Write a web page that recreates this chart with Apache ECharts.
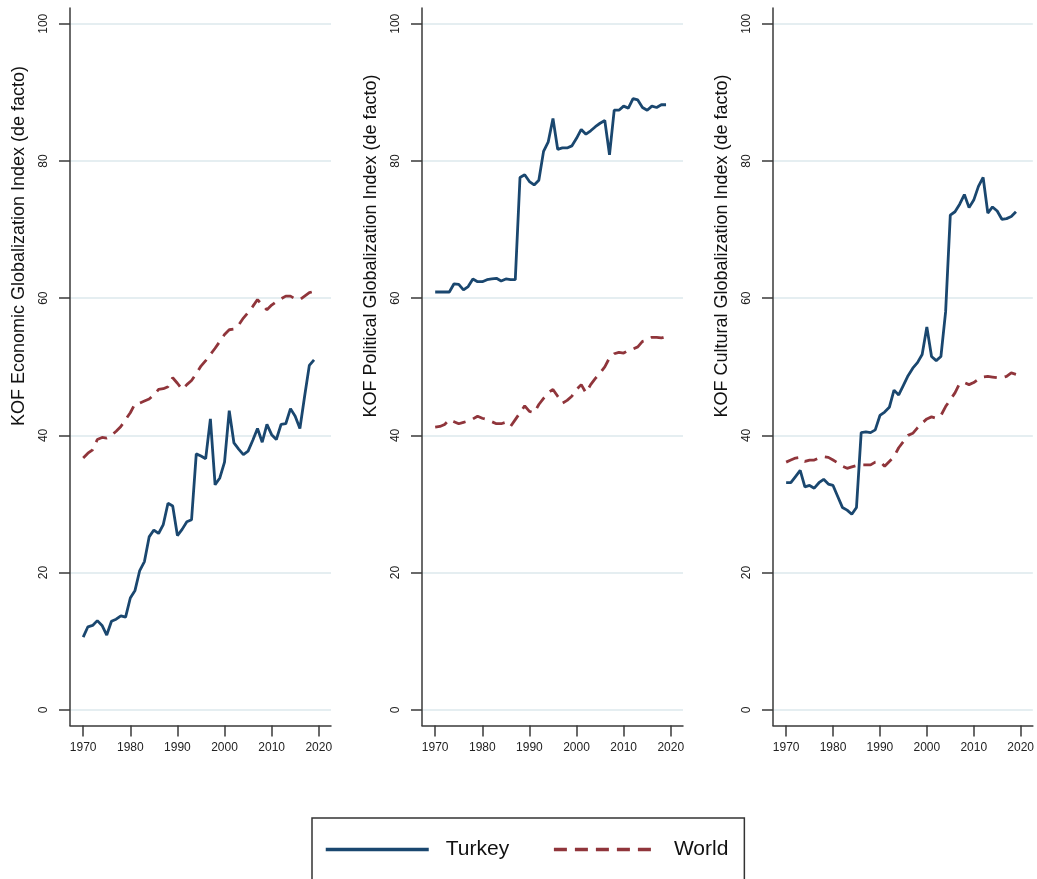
<!DOCTYPE html>
<html>
<head>
<meta charset="utf-8">
<script src="https://cdn.jsdelivr.net/npm/echarts@6/dist/echarts.min.js"></script>
<style>
    html, body {margin: 0; padding: 0; background: #fff;}
    #chart {width: 1037px; height: 879px;}
</style>
</head>
<body>
<div id="chart"></div>
<script>
// years on the x axis
const years = [1970, 1971, 1972, 1973, 1974, 1975, 1976, 1977, 1978, 1979,
    1980, 1981, 1982, 1983, 1984, 1985, 1986, 1987, 1988, 1989,
    1990, 1991, 1992, 1993, 1994, 1995, 1996, 1997, 1998, 1999,
    2000, 2001, 2002, 2003, 2004, 2005, 2006, 2007, 2008, 2009,
    2010, 2011, 2012, 2013, 2014, 2015, 2016, 2017, 2018, 2019];

// KOF economic globalization (de facto)
const econTurkey = [10.6, 12.1, 12.3, 13.0, 12.3, 10.9, 12.9, 13.2, 13.7, 13.5,
    16.3, 17.4, 20.3, 21.6, 25.2, 26.2, 25.7, 27.0, 30.1, 29.7,
    25.4, 26.3, 27.4, 27.7, 37.3, 37.0, 36.6, 42.4, 32.8, 33.8,
    36.1, 43.6, 38.9, 38.0, 37.2, 37.7, 39.3, 41.0, 39.0, 41.6,
    40.1, 39.4, 41.6, 41.7, 43.9, 42.8, 41.0, 45.7, 50.2, 51.0];
const econWorld = [36.7, 37.4, 37.9, 39.4, 39.7, 39.6, 40.0, 40.6, 41.3, 42.3,
    43.3, 44.6, 44.7, 45.0, 45.3, 45.9, 46.7, 46.8, 47.1, 48.4,
    47.6, 46.7, 47.4, 48.0, 49.0, 50.1, 50.9, 51.8, 52.7, 53.7,
    54.7, 55.4, 55.5, 56.1, 57.1, 57.9, 58.8, 59.8, 59.0, 58.3,
    59.0, 59.5, 59.9, 60.3, 60.3, 59.9, 59.8, 60.3, 60.8, 61.0];

// KOF political globalization (de facto)
const polTurkey = [60.9, 60.9, 60.9, 60.9, 62.1, 62.0, 61.2, 61.7, 62.8, 62.4,
    62.4, 62.7, 62.8, 62.9, 62.5, 62.8, 62.7, 62.7, 77.6, 78.0,
    77.0, 76.5, 77.2, 81.4, 82.8, 86.2, 81.7, 81.9, 81.9, 82.2,
    83.3, 84.6, 83.9, 84.4, 85.0, 85.5, 85.9, 80.9, 87.4, 87.4,
    88.0, 87.7, 89.1, 88.9, 87.8, 87.4, 88.0, 87.8, 88.2, 88.2];
const polWorld = [41.2, 41.3, 41.6, 42.3, 42.0, 41.7, 41.9, 42.1, 42.4, 42.8,
    42.5, 42.3, 42.0, 41.7, 41.7, 41.9, 41.3, 42.3, 43.3, 44.3,
    43.5, 43.3, 44.5, 45.4, 46.2, 46.7, 45.7, 44.7, 45.1, 45.7,
    46.7, 47.4, 46.2, 47.4, 48.3, 49.1, 50.0, 51.3, 51.9, 52.1,
    52.0, 52.4, 52.6, 52.9, 53.7, 53.9, 54.3, 54.3, 54.2, 54.4];

// KOF cultural globalization (de facto)
const cultTurkey = [33.1, 33.1, 34.0, 34.9, 32.5, 32.7, 32.3, 33.1, 33.6, 32.9,
    32.7, 31.1, 29.5, 29.1, 28.5, 29.5, 40.4, 40.5, 40.4, 40.8,
    42.9, 43.4, 44.1, 46.6, 45.9, 47.3, 48.7, 49.8, 50.6, 51.8,
    55.8, 51.5, 50.9, 51.5, 58.0, 72.1, 72.6, 73.7, 75.1, 73.2,
    74.3, 76.3, 77.6, 72.4, 73.3, 72.7, 71.5, 71.6, 71.9, 72.6];
const cultWorld = [36.1, 36.4, 36.7, 36.8, 36.2, 36.4, 36.4, 36.7, 36.9, 36.8,
    36.4, 36.0, 35.5, 35.2, 35.4, 35.6, 35.7, 35.7, 35.7, 36.1,
    36.2, 35.5, 36.2, 36.9, 38.2, 39.1, 40.0, 40.3, 41.1, 41.8,
    42.4, 42.7, 42.5, 42.9, 44.2, 45.2, 46.2, 47.6, 47.7, 47.4,
    47.7, 48.2, 48.5, 48.6, 48.5, 48.4, 48.4, 48.6, 49.1, 48.9];

const xTicks = [1970, 1980, 1990, 2000, 2010, 2020];
const yTicks = [0, 20, 40, 60, 80, 100];
const panelTitles = [
    'KOF Economic Globalization Index (de facto)',
    'KOF Political Globalization Index (de facto)',
    'KOF Cultural Globalization Index (de facto)'
];

const FONT = '"Liberation Sans", Arial, Helvetica, sans-serif';
const TURKEY_COLOR = '#1a476f';
const WORLD_COLOR = '#90353b';
const panelLeft = [70, 422, 773];   //各面板y轴位置
const panelData = [[econTurkey, econWorld], [polTurkey, polWorld], [cultTurkey, cultWorld]];

const pairs = arr => arr.map((v, i) => [years[i], v]);

let grids = [], xAxes = [], yAxes = [], series = [], graphics = [];
for (let i = 0; i < 3; i++) {
    grids.push({left: panelLeft[i], top: 8, width: 261, height: 717.5});
    xAxes.push({
        type: 'value',
        gridIndex: i,
        min: 1967.2,
        max: 2022.6,
        axisLine: {onZero: false, lineStyle: {color: '#3a3a3a', width: 1.5}},
        axisTick: {show: true, length: 11, customValues: xTicks, lineStyle: {color: '#3a3a3a', width: 1.5}},
        axisLabel: {
            customValues: xTicks,
            margin: 16,
            fontSize: 12,
            color: '#222',
            fontFamily: FONT,
            formatter: value => String(value)
        },
        splitLine: {show: false}
    });
    yAxes.push({
        type: 'value',
        gridIndex: i,
        min: -2.29,
        max: 102.3,
        axisLine: {show: true, onZero: false, lineStyle: {color: '#3a3a3a', width: 1.5}},
        axisTick: {show: true, length: 11, customValues: yTicks, lineStyle: {color: '#3a3a3a', width: 1.5}},
        axisLabel: {customValues: yTicks, rotate: 90, margin: 20, fontSize: 12, color: '#222', fontFamily: FONT},
        splitLine: {show: true, lineStyle: {color: '#dce9ed', width: 1.5}}
    });
    series.push({
        name: 'Turkey',
        type: 'line',
        xAxisIndex: i,
        yAxisIndex: i,
        data: pairs(panelData[i][0]),
        symbol: 'none',
        itemStyle: {color: TURKEY_COLOR},
        lineStyle: {color: TURKEY_COLOR, width: 2.8},
        z: 3
    }, {
        name: 'World',
        type: 'line',
        xAxisIndex: i,
        yAxisIndex: i,
        data: pairs(panelData[i][1]),
        symbol: 'none',
        itemStyle: {color: WORLD_COLOR},
        lineStyle: {color: WORLD_COLOR, width: 2.8, type: [13, 8]},
        z: 2
    });
    graphics.push({
        type: 'text',
        x: panelLeft[i] - 51,
        y: 246,
        rotation: Math.PI / 2,
        style: {
            text: panelTitles[i],
            fontSize: 18,
            fontFamily: FONT,
            fill: '#111',
            align: 'center',
            verticalAlign: 'middle'
        }
    });
}

let chart = echarts.init(document.getElementById('chart'), null, {renderer: 'canvas'});
chart.setOption({
    animation: false,
    backgroundColor: '#fff',
    grid: grids,
    xAxis: xAxes,
    yAxis: yAxes,
    legend: {
        data: ['Turkey', 'World'],
        left: 312,
        top: 818,
        padding: [21, 16, 40, 12],
        itemWidth: 103,
        itemHeight: 6,
        itemGap: 43,
        borderColor: '#333',
        borderWidth: 1.5,
        itemStyle: {opacity: 0},
        lineStyle: {width: 3.5},
        textStyle: {fontSize: 21, color: '#111', fontFamily: FONT, padding: [0, 0, 0, 12]}
    },
    graphic: graphics,
    series: series
});
</script>
</body>
</html>
